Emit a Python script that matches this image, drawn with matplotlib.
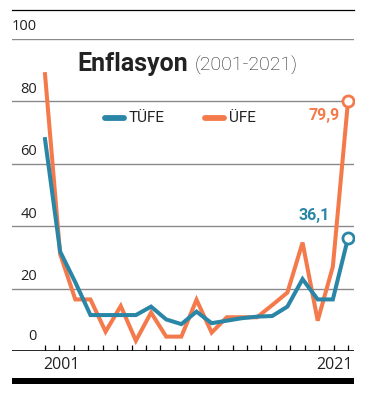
import matplotlib
matplotlib.use('Agg')
import matplotlib.pyplot as plt
from matplotlib.lines import Line2D
from matplotlib.patches import Rectangle
import numpy as np

# ==========================================
# data (yillik enflasyon, %)
# ==========================================
years = list(range(2001, 2022))
tufe = [67.8, 31.8, 22.0, 11.5, 11.5, 11.5, 11.5, 14.2, 10.1, 8.6, 12.6,
        8.9, 9.7, 10.5, 11.0, 11.2, 14.2, 23.0, 16.5, 16.5, 36.1]
ufe = [88.6, 31.0, 16.5, 16.5, 6.2, 14.4, 3.3, 12.3, 4.6, 4.6, 16.4,
       5.9, 10.8, 10.8, 10.8, 14.7, 18.7, 34.7, 9.7, 27.0, 79.9]
y_ticks = [0, 20, 40, 60, 80, 100]
x_labels = ['2001', '2021']
series_names = ['TÜFE', 'ÜFE']

TEAL = '#2a86a6'
ORANGE = '#f47a4b'

plt.rcParams['font.family'] = ['Open Sans', 'DejaVu Sans']

W, H = 371, 403
fig = plt.figure(figsize=(W / 100, H / 100), dpi=100)


def fx(px):
    return px / W


def fy(py):
    return 1 - py / H


# axes: gridline 100 at y=38.5px, zero line at y=351px, x from 12 to 354px
ax = fig.add_axes([fx(12), fy(351), fx(354) - fx(12), fy(38.5) - fy(351)])
step = (348 - 45) / 20
ax.set_xlim(2001 - (45 - 12) / step, 2021 + (354 - 348) / step)
ax.set_ylim(0, 100)
ax.set_facecolor('none')
for s in ax.spines.values():
    s.set_visible(False)
ax.set_yticks([])
ax.set_xticks([])

# grid
for v in y_ticks[1:]:
    ax.axhline(v, color='#8a8a8a', lw=1.0, zorder=1)
    ax.annotate(str(v), xy=((37 - 12) / 342, v), xycoords=('axes fraction', 'data'),
                xytext=(0, 3), textcoords='offset points', ha='right', va='bottom',
                fontsize=10.5, color='#222222')
ax.axhline(0, color='black', lw=1.2, zorder=3)
ax.annotate('0', xy=((37 - 12) / 342, 0), xycoords=('axes fraction', 'data'),
            xytext=(0, 5), textcoords='offset points', ha='right', va='bottom',
            fontsize=10.5, color='#222222')

# small ticks on the baseline
for t in np.linspace(2001, 2021, 22):
    ax.plot([t, t], [0, 1.9], color='black', lw=0.9, zorder=3, solid_capstyle='butt')

# lines
ax.plot(years, ufe, color=ORANGE, lw=2.9, zorder=4, solid_joinstyle='miter')
ax.plot(years, tufe, color=TEAL, lw=2.9, zorder=5, solid_joinstyle='miter')
ax.plot(years[-1], ufe[-1], 'o', ms=8, mfc='white', mec=ORANGE, mew=2, zorder=6)
ax.plot(years[-1], tufe[-1], 'o', ms=8, mfc='white', mec=TEAL, mew=2, zorder=6)

ax.annotate('79,9', xy=(years[-1], ufe[-1]), xytext=(-6, -10), textcoords='offset points',
            ha='right', va='center', fontsize=11.5, fontweight='bold', color=ORANGE,
            family=['Roboto', 'DejaVu Sans'])
ax.annotate('36,1', xy=(years[-1], tufe[-1]), xytext=(-13, 16), textcoords='offset points',
            ha='right', va='center', fontsize=11.5, fontweight='bold', color=TEAL,
            family=['Roboto', 'DejaVu Sans'])

# x labels
fig.text(fx(43), fy(365), x_labels[0], ha='left', va='center', fontsize=11.5, color='#222222')
fig.text(fx(353), fy(365), x_labels[1], ha='right', va='center', fontsize=11.5, color='#222222')

# title
fig.text(fx(77), fy(71), 'Enflasyon', ha='left', va='baseline', fontsize=18,
         fontweight='bold', color='#222222', family=['Roboto', 'DejaVu Sans'])
fig.text(fx(195), fy(71), '(2001-2021)', ha='left', va='baseline', fontsize=14,
         color='#222222', family=['Roboto', 'DejaVu Sans'], fontweight='light')

# legend
for x0, col, name in [(103, TEAL, series_names[0]), (203, ORANGE, series_names[1])]:
    fig.add_artist(Line2D([fx(x0 + 2), fx(x0 + 21)], [fy(118), fy(118)], color=col,
                          lw=4.2, solid_capstyle='round'))
    fig.text(fx(x0 + 26), fy(118), name, ha='left', va='center', fontsize=11,
             color='#222222', family=['Roboto', 'DejaVu Sans'])

# top rule and bottom bar
fig.add_artist(Line2D([fx(12), fx(354)], [fy(9.5), fy(9.5)], color='black', lw=0.9))
fig.add_artist(Rectangle((fx(12), fy(383.5)), fx(354) - fx(12), fy(378) - fy(383.5),
                         color='black', lw=0))

fig.savefig('out.png', dpi=100)
